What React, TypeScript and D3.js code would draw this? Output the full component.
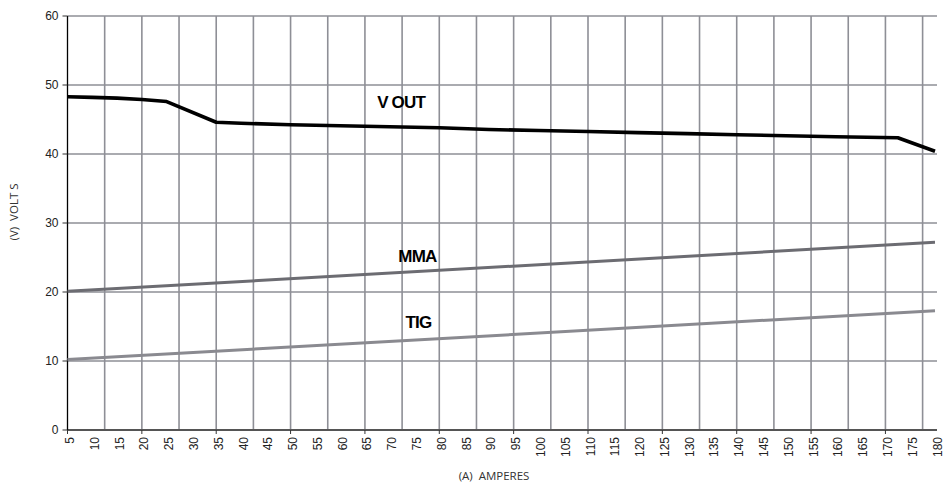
import React from "react";
import * as d3 from "d3";

const xTickLabels = [5,10,15,20,25,30,35,40,45,50,55,60,65,70,75,80,85,90,95,100,105,110,115,120,125,130,135,140,145,150,155,160,165,170,175,180];
const xMajorTicks = [5,20,35,50,65,80,95,110,125,140,155,170];
const xGrid = [12.5,20,27.5,35,42.5,50,57.5,65,72.5,80,87.5,95,102.5,110,117.5,125,132.5,140,147.5,155,162.5,170,177.5];
const yTicks = [0,10,20,30,40,50,60];

const voutAmps = [5,10,15,20,25,35,40,50,60,70,80,90,100,110,120,130,140,150,160,172.5,180];
const voutVolts = [48.3,48.2,48.1,47.9,47.6,44.6,44.45,44.25,44.1,43.95,43.8,43.55,43.4,43.25,43.1,42.95,42.8,42.65,42.5,42.35,40.4];
const mmaAmps = [5,180];
const mmaVolts = [20.1,27.2];
const tigAmps = [5,180];
const tigVolts = [10.2,17.3];

const seriesLabels = [
  { text: "V OUT", amps: 72.3, volts: 47.4 },
  { text: "MMA", amps: 75.6, volts: 25.1 },
  { text: "TIG", amps: 75.8, volts: 15.6 },
];

export default function App() {
  const W = 943, H = 493;
  const x = d3.scaleLinear().domain([5, 180]).range([67.5, 935]);
  const y = d3.scaleLinear().domain([0, 60]).range([430, 16]);
  const line = d3.line<[number, number]>().x(d => x(d[0])).y(d => y(d[1]));
  const pts = (a: number[], v: number[]) => a.map((d, i) => [d, v[i]] as [number, number]);
  const gridColor = "#8e8f96";
  const xRight = 937;
  return (
    <svg width={W} height={H} style={{ position: "absolute", left: 0, top: 0, background: "#fff" }}
      fontFamily="'Liberation Sans', Arial, sans-serif">
      {yTicks.filter(t => t > 0).map(t => (
        <line key={"h" + t} x1={x(5)} x2={xRight} y1={y(t)} y2={y(t)} stroke={gridColor} strokeWidth={1.6} />
      ))}
      {xGrid.map(t => (
        <line key={"v" + t} x1={x(t)} x2={x(t)} y1={y(60)} y2={y(0)} stroke={gridColor} strokeWidth={1.6} />
      ))}
      <line x1={x(5)} x2={xRight} y1={y(0)} y2={y(0)} stroke="#555" strokeWidth={2} />
      {xMajorTicks.map(t => (
        <line key={"xt" + t} x1={x(t)} x2={x(t)} y1={y(0)} y2={y(0) + 4} stroke="#333" strokeWidth={1} />
      ))}
      {xTickLabels.map(t => (
        <text key={"xl" + t} transform={`translate(${x(t) + 2.5},${y(0) + 7}) rotate(-90)`}
          textAnchor="end" dominantBaseline="central" fontSize={12} fill="#222">{t}</text>
      ))}
      <line x1={x(5)} x2={x(5)} y1={y(60)} y2={y(0)} stroke="#000" strokeWidth={1.3} />
      {yTicks.map(t => (
        <g key={"yt" + t}>
          <line x1={x(5) - 5} x2={x(5)} y1={y(t)} y2={y(t)} stroke="#333" strokeWidth={1} />
          <text x={x(5) - 9} y={y(t)} textAnchor="end" dominantBaseline="central" fontSize={12} fill="#222">{t}</text>
        </g>
      ))}
      <path d={line(pts(tigAmps, tigVolts)) || ""} fill="none" stroke="#8a8a90" strokeWidth={3} />
      <path d={line(pts(mmaAmps, mmaVolts)) || ""} fill="none" stroke="#6c6c72" strokeWidth={3} />
      <path d={line(pts(voutAmps, voutVolts)) || ""} fill="none" stroke="#000" strokeWidth={3.6} strokeLinejoin="round" />
      {seriesLabels.map(l => (
        <text key={l.text} x={x(l.amps)} y={y(l.volts)} textAnchor="middle" dominantBaseline="central"
          fontSize={17} fontWeight="bold" letterSpacing={-0.8} fill="#000">{l.text}</text>
      ))}
      <text transform={`translate(13,212) rotate(-90)`} textAnchor="middle" dominantBaseline="central"
        fontFamily="'Open Sans', sans-serif" fontSize={11.5} fill="#333" style={{ whiteSpace: "pre" }}>(V)  VOLT S</text>
      <text x={494} y={475} textAnchor="middle" dominantBaseline="central"
        fontFamily="'Open Sans', sans-serif" fontSize={11.5} fill="#333" style={{ whiteSpace: "pre" }}>(A)  AMPERES</text>
    </svg>
  );
}
